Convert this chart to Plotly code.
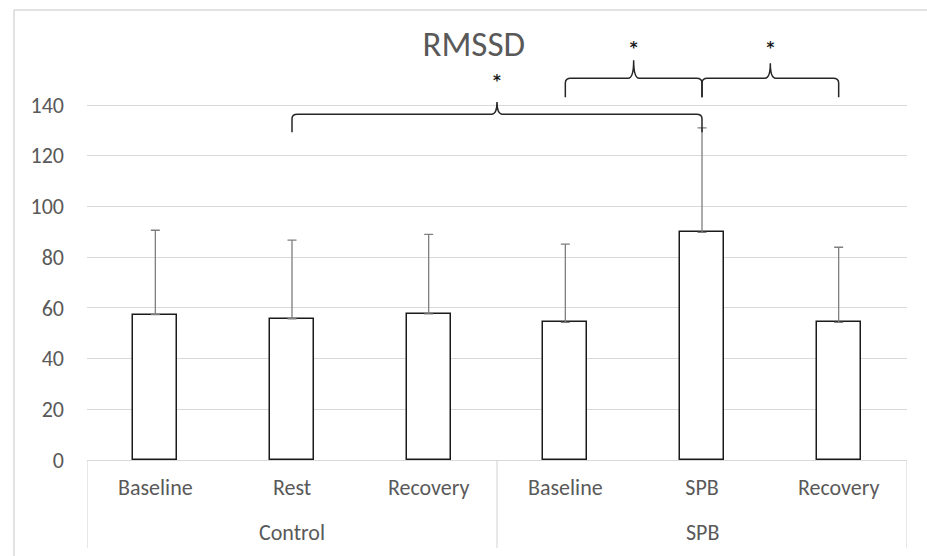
import plotly.graph_objects as go

groups = ["Control", "SPB"]
group_members = [[0, 1, 2], [3, 4, 5]]
conditions = ["Baseline", "Rest", "Recovery", "Baseline", "SPB", "Recovery"]
means = [57.3, 55.7, 57.6, 54.3, 89.8, 54.3]
sd_plus = [33.3, 31.0, 31.4, 30.8, 41.2, 29.6]
y_ticks = [0, 20, 40, 60, 80, 100, 120, 140]

# significance braces: (from index, to index, bar level, end level, tip level, star level)
brace_from = [1, 3, 4]
brace_to = [4, 4, 5]
brace_level = [136.4, 150.6, 150.6]
brace_end = [129.3, 143.1, 143.1]
brace_tip = [141.2, 157.7, 156.5]
star_level = [149.0, 162.0, 162.0]

GRAY = "#595959"
LIGHT = "#d9d9d9"
FONT = "Carlito, Lato, Noto Sans, sans-serif"

pos = list(range(len(conditions)))

fig = go.Figure()
fig.add_trace(go.Bar(
    x=pos, y=means,
    width=0.322,
    marker=dict(color="white", line=dict(color="#1a1a1a", width=1.5)),
    error_y=dict(type="data", array=sd_plus, arrayminus=[0] * len(means), symmetric=False,
                 color="#7f7f7f", thickness=1.3, width=4.5),
    showlegend=False,
))

star_x = [(a + b) / 2 for a, b in zip(brace_from, brace_to)]
fig.add_trace(go.Scatter(
    x=star_x, y=star_level, mode="text", text=["<b>*</b>"] * len(star_x),
    textfont=dict(size=15, color="#1a1a1a", family="DejaVu Sans"),
    showlegend=False, hoverinfo="skip",
))

shapes = []
for a, b, yl, ye, yt in zip(brace_from, brace_to, brace_level, brace_end, brace_tip):
    m = (a + b) / 2
    dx = 0.04
    dy = (yl - ye) * 0.25
    path = (f"M {a},{ye} L {a},{yl - dy} Q {a},{yl} {a + dx},{yl} "
            f"L {m - dx},{yl} Q {m},{yl} {m},{yt} Q {m},{yl} {m + dx},{yl} "
            f"L {b - dx},{yl} Q {b},{yl} {b},{yl - dy} L {b},{ye}")
    shapes.append(dict(type="path", path=path, xref="x", yref="y",
                       line=dict(color="#262626", width=1.5)))

# category box verticals (edges and group divider)
box_bottom = -0.198
div_x = [-0.5] + [g[-1] + 0.5 for g in group_members]
for xv in div_x:
    shapes.append(dict(type="line", xref="x", yref="paper", x0=xv, x1=xv,
                       y0=0, y1=box_bottom, line=dict(color=LIGHT, width=1.2)))

# chart area border (top and left visible)
shapes.append(dict(type="line", xref="paper", yref="paper", x0=-0.089, x1=1.03,
                   y0=1.0112, y1=1.0112, line=dict(color=LIGHT, width=1.5)))
shapes.append(dict(type="line", xref="paper", yref="paper", x0=-0.089, x1=-0.089,
                   y0=1.0112, y1=-0.23, line=dict(color=LIGHT, width=1.5)))

annotations = []
for g, members in zip(groups, group_members):
    annotations.append(dict(text=g, x=sum(members) / len(members), xref="x",
                            y=-0.164, yref="paper", showarrow=False,
                            yanchor="middle", xanchor="center",
                            font=dict(size=22, color=GRAY, family=FONT)))

fig.update_layout(
    width=927, height=556,
    margin=dict(l=87, r=20, t=15, b=96),
    paper_bgcolor="white", plot_bgcolor="white",
    font=dict(family=FONT, color=GRAY, size=22),
    title=dict(text="RMSSD", x=0.511, xanchor="center", y=0.921, yanchor="middle",
               font=dict(size=35, color=GRAY, family=FONT)),
    shapes=shapes,
    annotations=annotations,
    xaxis=dict(range=[-0.5, 5.5], tickvals=pos, ticktext=conditions,
               showgrid=False, ticks="", showline=True, linecolor=LIGHT,
               linewidth=1.2, zeroline=False, ticklabelstandoff=7,
               tickfont=dict(size=22, color=GRAY, family=FONT)),
    yaxis=dict(range=[0, 175.5], tickvals=y_ticks, showgrid=True,
               gridcolor=LIGHT, gridwidth=1.2, zeroline=False,
               ticks="", ticklabelstandoff=22,
               tickfont=dict(size=22, color=GRAY, family=FONT)),
    bargap=0,
)

fig.write_html("out.html", config={"displayModeBar": False},
               post_script="document.body.style.margin='0px';")
